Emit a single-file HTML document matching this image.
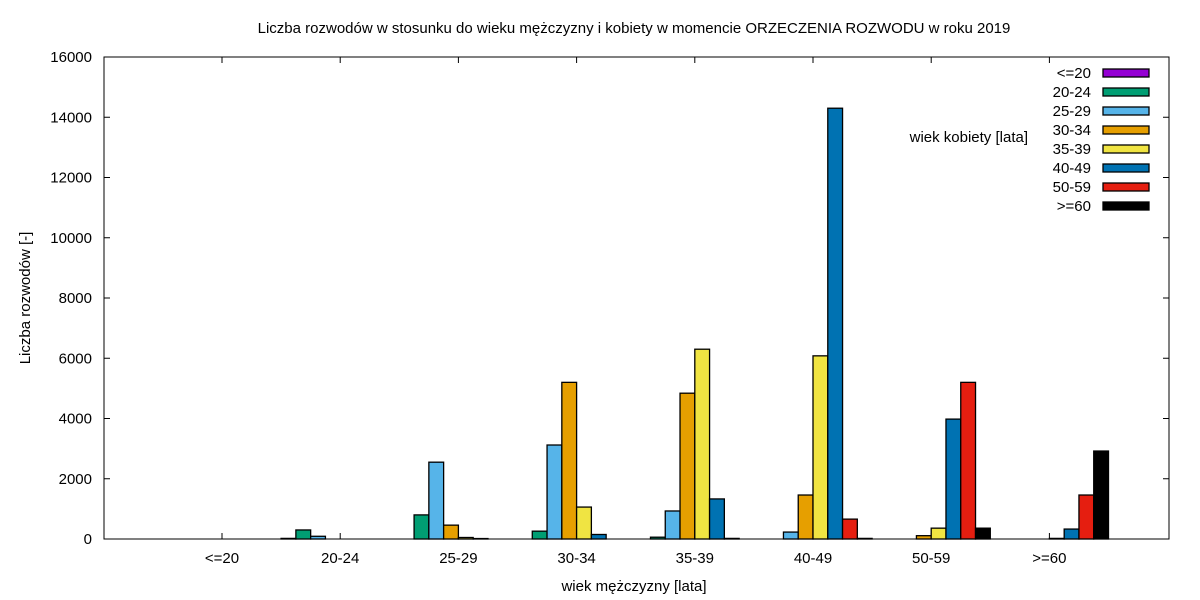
<!DOCTYPE html>
<html><head><meta charset="utf-8"><style>body{margin:0;background:#fff}svg{display:block;font-family:"Liberation Sans",sans-serif}</style></head>
<body>
<svg id="chart" width="1200" height="600" viewBox="0 0 1200 600" xmlns="http://www.w3.org/2000/svg">
<text x="634" y="33" font-size="15" text-anchor="middle">Liczba rozwodów w stosunku do wieku mężczyzny i kobiety w momencie ORZECZENIA ROZWODU w roku 2019</text>
<text transform="translate(30,298) rotate(-90)" font-size="15" text-anchor="middle">Liczba rozwodów [-]</text>
<text x="634" y="591" font-size="15" text-anchor="middle">wiek mężczyzny [lata]</text>
<text x="1028" y="142" font-size="15" text-anchor="end">wiek kobiety [lata]</text>
<g id="ticks"></g><g id="bars"></g><g id="legend"></g>
<rect x="104" y="57" width="1065" height="482" fill="none" stroke="#000" stroke-width="1"/>
</svg>
<script>
const categories=["<=20","20-24","25-29","30-34","35-39","40-49","50-59",">=60"];
const series=["<=20","20-24","25-29","30-34","35-39","40-49","50-59",">=60"];
const colors=["#9400d3","#009e73","#56b4e9","#e69f00","#f0e442","#0072b2","#e51e10","#000000"];
const s0=[0,20,0,0,0,0,0,0];
const s1=[0,300,800,260,60,0,0,0];
const s2=[0,90,2550,3120,930,230,0,0];
const s3=[0,0,460,5200,4840,1460,110,0];
const s4=[0,0,50,1060,6300,6080,360,20];
const s5=[0,0,15,150,1330,14300,3980,330];
const s6=[0,0,0,0,20,660,5200,1460];
const s7=[0,0,0,0,0,20,360,2920];
const values=[s0,s1,s2,s3,s4,s5,s6,s7];
const yTicks=[0,2000,4000,6000,8000,10000,12000,14000,16000];
const NS="http://www.w3.org/2000/svg";
const X0=104,X1=1169,Y0=539,Y1=57,YMAX=16000;
const y=v=>Y0-(v/YMAX)*(Y0-Y1);
const groupW=118.2, firstCenter=222;
const xc=i=>firstCenter+i*groupW;
const bw=groupW/8;
function mk(t,a,p){const e=document.createElementNS(NS,t);for(const k in a)e.setAttribute(k,a[k]);p.appendChild(e);return e;}
const tk=document.getElementById('ticks');
yTicks.forEach(v=>{
 const l=mk('line',{x1:X0,x2:X0+6,y1:y(v),y2:y(v),stroke:'#000'},tk);
 
 
 const r=mk('line',{x1:X1-6,x2:X1,y1:y(v),y2:y(v),stroke:'#000'},tk);
 
 
 const t=mk('text',{x:X0-12,y:y(v)+5,'font-size':15,'text-anchor':'end'},tk);t.textContent=v;
 
 
});
categories.forEach((c,i)=>{
 const l=mk('line',{x1:xc(i),x2:xc(i),y1:Y0,y2:Y0-6,stroke:'#000'},tk);
 
 
 const l2=mk('line',{x1:xc(i),x2:xc(i),y1:Y1,y2:Y1+6,stroke:'#000'},tk);
 
 
 const t=mk('text',{x:xc(i),y:563,'font-size':15,'text-anchor':'middle'},tk);t.textContent=c;
 
 
});
const bg=document.getElementById('bars');
values.forEach((arr,s)=>{arr.forEach((v,i)=>{
 const x=xc(i)-groupW/2+s*bw;
 const r=mk('rect',{x:x,y:y(v),width:bw,height:Y0-y(v),fill:colors[s],stroke:'#000','stroke-width':1.3},bg);
 
 
});});
const lg=document.getElementById('legend');
series.forEach((s,k)=>{
 const yy=73+k*19;
 const t=mk('text',{x:1091,y:yy+5,'font-size':15,'text-anchor':'end'},lg);t.textContent=s;
 
 
 const r=mk('rect',{x:1103,y:yy-4,width:46,height:8,fill:colors[k],stroke:'#000','stroke-width':1.3},lg);
 
 
});
</script>
</body></html>
